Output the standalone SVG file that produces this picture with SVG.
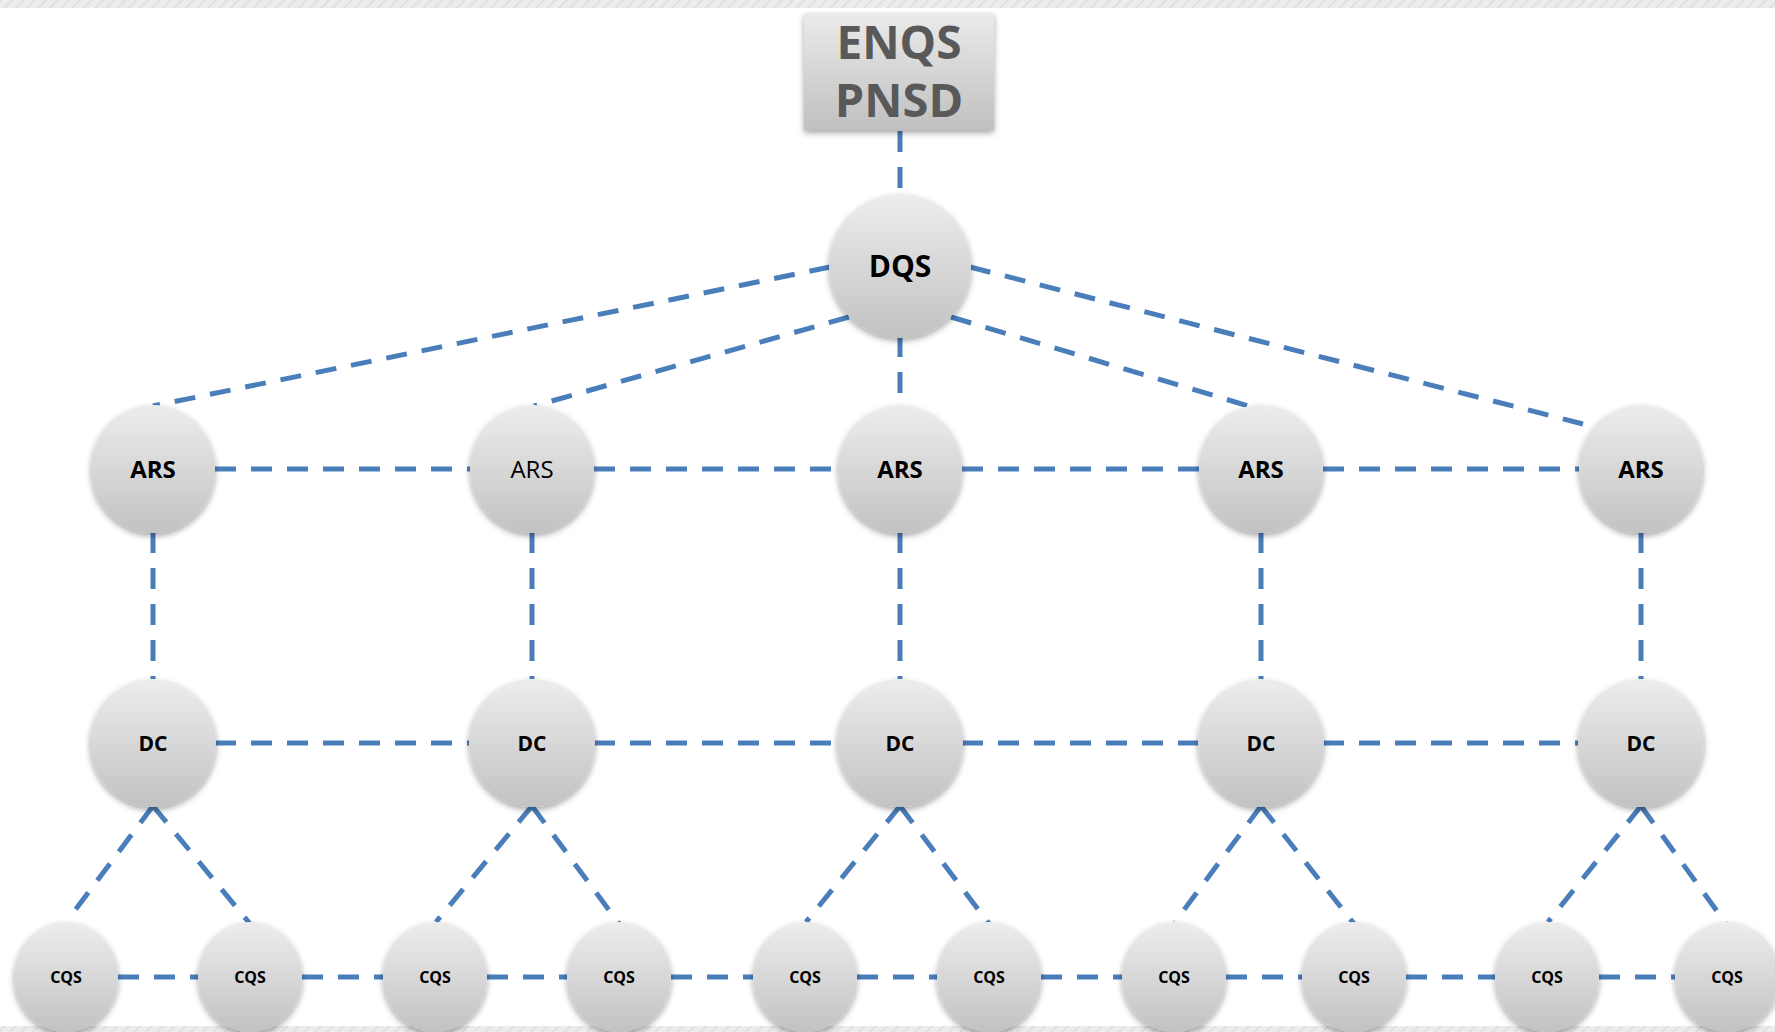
<svg xmlns="http://www.w3.org/2000/svg" width="1775" height="1032" viewBox="0 0 1775 1032">
<style>
.c{fill:none;stroke:#4a7ebb;stroke-width:5;stroke-dasharray:21 15}
.n{fill:url(#g);filter:url(#sh)}
.t{font-family:"Open Sans","DejaVu Sans",sans-serif;font-weight:bold;fill:#000;text-anchor:middle}
.ars{font-size:24px}
.dc{font-size:21px}
.cqs{font-size:16px}
</style>
<defs>
<linearGradient id="g" x1="0" y1="0" x2="0" y2="1">
<stop offset="0" stop-color="#ededed"/>
<stop offset="1" stop-color="#c2c2c2"/>
</linearGradient>
<linearGradient id="gb" x1="0" y1="0" x2="0" y2="1">
<stop offset="0" stop-color="#ebebeb"/>
<stop offset="1" stop-color="#c0c0c0"/>
</linearGradient>
<filter id="sh" x="-20%" y="-20%" width="140%" height="150%">
<feGaussianBlur in="SourceAlpha" stdDeviation="3"/>
<feOffset dx="0" dy="3" result="b"/>
<feComponentTransfer><feFuncA type="linear" slope="0.35"/></feComponentTransfer>
<feMerge><feMergeNode/><feMergeNode in="SourceGraphic"/></feMerge>
</filter>
<pattern id="hatch" width="8" height="8" patternUnits="userSpaceOnUse" patternTransform="rotate(45)">
<rect width="8" height="8" fill="#ececec"/>
<line x1="0" y1="0" x2="0" y2="8" stroke="#dcdcdc" stroke-width="3"/>
</pattern>
</defs>
<rect width="1775" height="1032" fill="#fff"/>
<rect x="0" y="0" width="1775" height="8" fill="url(#hatch)"/>
<rect x="0" y="1026" width="1775" height="6" fill="url(#hatch)"/>

<g id="connectors">
<line class="c" x1="900" y1="131" x2="900" y2="200"/>
<line class="c" x1="830" y1="267" x2="153" y2="406"/>
<line class="c" x1="849" y1="317" x2="534" y2="406"/>
<line class="c" x1="900" y1="336" x2="900" y2="408"/>
<line class="c" x1="951" y1="317" x2="1262" y2="410"/>
<line class="c" x1="970" y1="267" x2="1583" y2="424"/>
<line class="c" x1="215" y1="469" x2="470" y2="469"/>
<line class="c" x1="594" y1="469" x2="838" y2="469"/>
<line class="c" x1="962" y1="469" x2="1199" y2="469"/>
<line class="c" x1="1323" y1="469" x2="1579" y2="469"/>
<line class="c" x1="153" y1="532" x2="153" y2="680"/>
<line class="c" x1="532" y1="532" x2="532" y2="680"/>
<line class="c" x1="900" y1="532" x2="900" y2="680"/>
<line class="c" x1="1261" y1="532" x2="1261" y2="680"/>
<line class="c" x1="1641" y1="532" x2="1641" y2="680"/>
<line class="c" x1="215" y1="743" x2="470" y2="743"/>
<line class="c" x1="594" y1="743" x2="838" y2="743"/>
<line class="c" x1="962" y1="743" x2="1199" y2="743"/>
<line class="c" x1="1323" y1="743" x2="1579" y2="743"/>
<line class="c" x1="153" y1="806" x2="70" y2="917"/>
<line class="c" x1="153" y1="806" x2="251" y2="925"/>
<line class="c" x1="532" y1="806" x2="436" y2="922"/>
<line class="c" x1="532" y1="806" x2="620" y2="925"/>
<line class="c" x1="900" y1="806" x2="806" y2="922"/>
<line class="c" x1="900" y1="806" x2="990" y2="925"/>
<line class="c" x1="1261" y1="806" x2="1175" y2="922"/>
<line class="c" x1="1261" y1="806" x2="1355" y2="925"/>
<line class="c" x1="1641" y1="806" x2="1548" y2="922"/>
<line class="c" x1="1641" y1="806" x2="1727" y2="925"/>
<line class="c" x1="118" y1="977" x2="198" y2="977"/>
<line class="c" x1="302" y1="977" x2="383" y2="977"/>
<line class="c" x1="487" y1="977" x2="567" y2="977"/>
<line class="c" x1="671" y1="977" x2="753" y2="977"/>
<line class="c" x1="857" y1="977" x2="937" y2="977"/>
<line class="c" x1="1041" y1="977" x2="1122" y2="977"/>
<line class="c" x1="1226" y1="977" x2="1302" y2="977"/>
<line class="c" x1="1406" y1="977" x2="1495" y2="977"/>
<line class="c" x1="1599" y1="977" x2="1675" y2="977"/>
</g>

<g id="enqs">
<rect x="804" y="13" width="190" height="117" fill="url(#gb)" filter="url(#sh)"/>
<text x="899" y="59" font-family="'Open Sans','DejaVu Sans',sans-serif" font-weight="bold" font-size="46" fill="#595959" text-anchor="middle">ENQS</text>
<text x="899" y="117" font-family="'Open Sans','DejaVu Sans',sans-serif" font-weight="bold" font-size="47" fill="#595959" text-anchor="middle">PNSD</text>
</g>

<g id="dqs"><ellipse class="n" cx="900" cy="266" rx="71" ry="72"/><text class="t" x="900" y="277" font-size="30">DQS</text></g>

<g id="ars1"><ellipse class="n" cx="153" cy="469" rx="62" ry="64"/><text class="t ars" x="153" y="478">ARS</text></g>
<g id="ars2"><ellipse class="n" cx="532" cy="469" rx="62" ry="64"/><text class="t ars" x="532" y="478" style="font-weight:normal">ARS</text></g>
<g id="ars3"><ellipse class="n" cx="900" cy="469" rx="62" ry="64"/><text class="t ars" x="900" y="478">ARS</text></g>
<g id="ars4"><ellipse class="n" cx="1261" cy="469" rx="62" ry="64"/><text class="t ars" x="1261" y="478">ARS</text></g>
<g id="ars5"><ellipse class="n" cx="1641" cy="469" rx="62" ry="64"/><text class="t ars" x="1641" y="478">ARS</text></g>

<g id="dc1"><ellipse class="n" cx="153" cy="743" rx="63" ry="64"/><text class="t dc" x="153" y="751">DC</text></g>
<g id="dc2"><ellipse class="n" cx="532" cy="743" rx="63" ry="64"/><text class="t dc" x="532" y="751">DC</text></g>
<g id="dc3"><ellipse class="n" cx="900" cy="743" rx="63" ry="64"/><text class="t dc" x="900" y="751">DC</text></g>
<g id="dc4"><ellipse class="n" cx="1261" cy="743" rx="63" ry="64"/><text class="t dc" x="1261" y="751">DC</text></g>
<g id="dc5"><ellipse class="n" cx="1641" cy="743" rx="63" ry="64"/><text class="t dc" x="1641" y="751">DC</text></g>

<g id="cqs1"><ellipse class="n" cx="66" cy="977" rx="52" ry="55"/><text class="t cqs" x="66" y="983">CQS</text></g>
<g id="cqs2"><ellipse class="n" cx="250" cy="977" rx="52" ry="55"/><text class="t cqs" x="250" y="983">CQS</text></g>
<g id="cqs3"><ellipse class="n" cx="435" cy="977" rx="52" ry="55"/><text class="t cqs" x="435" y="983">CQS</text></g>
<g id="cqs4"><ellipse class="n" cx="619" cy="977" rx="52" ry="55"/><text class="t cqs" x="619" y="983">CQS</text></g>
<g id="cqs5"><ellipse class="n" cx="805" cy="977" rx="52" ry="55"/><text class="t cqs" x="805" y="983">CQS</text></g>
<g id="cqs6"><ellipse class="n" cx="989" cy="977" rx="52" ry="55"/><text class="t cqs" x="989" y="983">CQS</text></g>
<g id="cqs7"><ellipse class="n" cx="1174" cy="977" rx="52" ry="55"/><text class="t cqs" x="1174" y="983">CQS</text></g>
<g id="cqs8"><ellipse class="n" cx="1354" cy="977" rx="52" ry="55"/><text class="t cqs" x="1354" y="983">CQS</text></g>
<g id="cqs9"><ellipse class="n" cx="1547" cy="977" rx="52" ry="55"/><text class="t cqs" x="1547" y="983">CQS</text></g>
<g id="cqs10"><ellipse class="n" cx="1727" cy="977" rx="52" ry="55"/><text class="t cqs" x="1727" y="983">CQS</text></g>
</svg>
